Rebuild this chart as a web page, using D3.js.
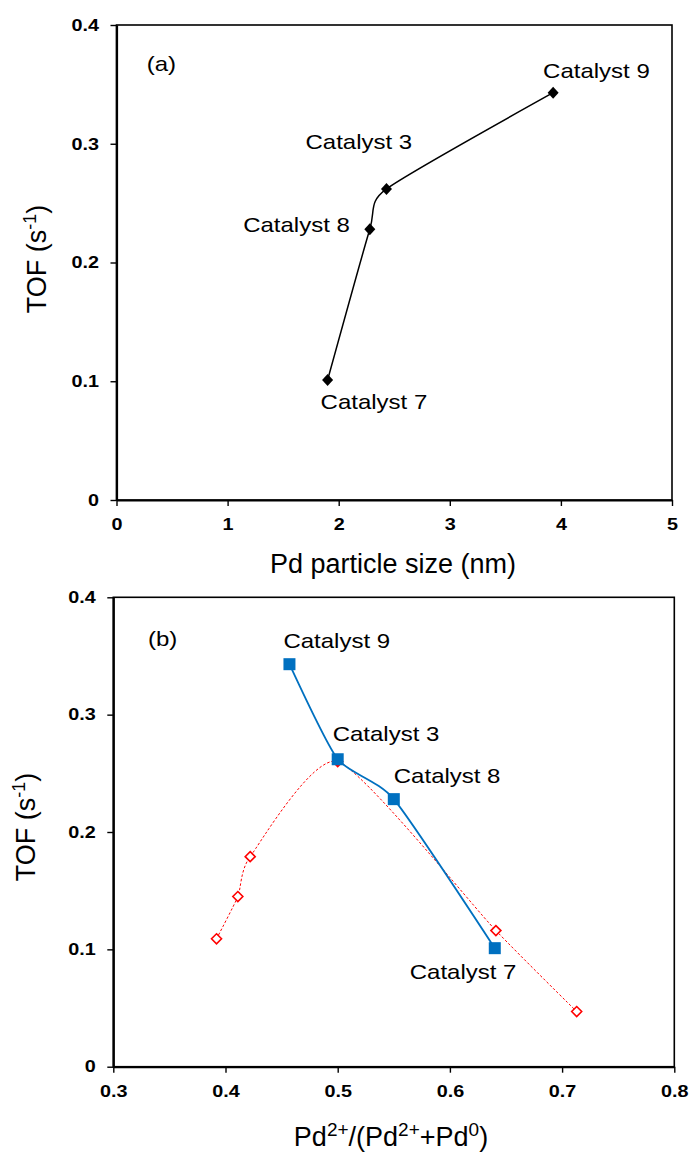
<!DOCTYPE html>
<html>
<head>
    <meta charset="utf-8"/>
    <style>
        body {
            margin: 0;
            background: #fff;
        }

        svg text {
            font-family: Arial, "Liberation Sans", sans-serif;
            fill: #000;
        }
    </style>
</head>
<body>
<div id="chart"></div>
<script type="text/javascript" src="https://cdn.jsdelivr.net/npm/d3@7"></script>
<script type="text/javascript">

    // catalysts, in order of particle size
    var catalysts = ["Catalyst 7", "Catalyst 8", "Catalyst 3", "Catalyst 9"];
    var tof = [0.101, 0.228, 0.262, 0.343];
    var particleSize = [1.90, 2.28, 2.43, 3.93];
    var pdRatio = [0.640, 0.550, 0.500, 0.457];

    // second (red, open diamond) series in panel b
    var refRatio = [0.392, 0.411, 0.422, 0.500, 0.641, 0.713];
    var refTof = [0.109, 0.145, 0.179, 0.260, 0.116, 0.047];

    var tofTicks = [0, 0.1, 0.2, 0.3, 0.4];
    var sizeTicks = [0, 1, 2, 3, 4, 5];
    var ratioTicks = [0.3, 0.4, 0.5, 0.6, 0.7, 0.8];

    var w = 694;
    var h = 1156;
    var stretch = 1.2;   // labels in the figure are drawn wide

    var svg = d3.select("#chart")
        .append("svg")
        .attr("width", w)
        .attr("height", h);

    var xA = d3.scaleLinear().domain([0, 5]).range([116.5, 672]);
    var yA = d3.scaleLinear().domain([0, 0.4]).range([500, 25]);
    var xB = d3.scaleLinear().domain([0.3, 0.8]).range([113.3, 674.3]);
    var yB = d3.scaleLinear().domain([0, 0.4]).range([1066.7, 597.3]);

    function frame(x, y, xTicks, xFmt) {
        // top and right border
        svg.append("rect")
            .attr("x", x.range()[0])
            .attr("y", y.range()[1])
            .attr("width", x.range()[1] - x.range()[0])
            .attr("height", y.range()[0] - y.range()[1])
            .attr("fill", "none")
            .attr("stroke", "#000")
            .attr("stroke-width", 1.6);

        var gx = svg.append("g")
            .attr("transform", "translate(0," + y.range()[0] + ")")
            .call(d3.axisBottom(x).tickValues(xTicks).tickFormat(xFmt).tickSize(6).tickSizeOuter(0));
        gx.selectAll("text")
            .attr("y", 18.5)
            .attr("transform", "scale(" + stretch + ",1)");

        var gy = svg.append("g")
            .attr("transform", "translate(" + x.range()[0] + ",0)")
            .call(d3.axisLeft(y).tickValues(tofTicks).tickFormat(d3.format("")).tickSize(6).tickSizeOuter(0));
        gy.selectAll("text")
            .attr("x", -17.5 / stretch)
            .attr("transform", "scale(" + stretch + ",1)");

        svg.selectAll(".domain").attr("stroke-width", 2.2);
        svg.selectAll(".tick line").attr("stroke-width", 1.4);
        svg.selectAll(".tick text")
            .attr("font-size", 16.5)
            .attr("font-weight", "bold")
            .attr("font-family", "Arial, 'Liberation Sans', sans-serif");
    }

    function wideText(x, y, str, anchor) {
        return svg.append("text")
            .attr("transform", "translate(" + x + "," + y + ") scale(" + stretch + ",1)")
            .attr("text-anchor", anchor || "start")
            .attr("font-size", 20)
            .text(str);
    }

    function tofTitle(x, y) {
        var t = svg.append("text")
            .attr("transform", "translate(" + x + "," + y + ") rotate(-90)")
            .attr("text-anchor", "middle")
            .attr("font-size", 27);
        t.append("tspan").text("TOF (s");
        t.append("tspan").attr("baseline-shift", "super").attr("font-size", 18).text("-1");
        t.append("tspan").text(")");
    }

    // spreadsheet-style smoothed line
    var smooth = d3.curveCardinal.tension(0.4);

    // ---------------- panel (a) ----------------
    frame(xA, yA, sizeTicks, d3.format("d"));

    var dsA = catalysts.map(function (c, i) {
        return {name: c, x: particleSize[i], y: tof[i]};
    });

    var lineA = d3.line()
        .x(function (d) { return xA(d.x); })
        .y(function (d) { return yA(d.y); })
        .curve(smooth);

    svg.append("path")
        .datum(dsA)
        .attr("d", lineA)
        .attr("fill", "none")
        .attr("stroke", "#000")
        .attr("stroke-width", 1.5);

    svg.selectAll(".dia-a")
        .data(dsA)
        .enter()
        .append("path")
        .attr("class", "dia-a")
        .attr("d", "M0,-6L5.5,0L0,6L-5.5,0Z")
        .attr("transform", function (d) {
            return "translate(" + xA(d.x) + "," + yA(d.y) + ")";
        })
        .attr("fill", "#000");

    var offA = {
        "Catalyst 9": [-10, -15, "start"],
        "Catalyst 3": [-81, -40, "start"],
        "Catalyst 8": [-20, 3, "end"],
        "Catalyst 7": [-7, 29, "start"]
    };
    dsA.forEach(function (d) {
        var o = offA[d.name];
        wideText(xA(d.x) + o[0], yA(d.y) + o[1], d.name, o[2]);
    });

    wideText(146.7, 71, "(a)");
    tofTitle(46, 259);
    svg.append("text")
        .attr("x", 393)
        .attr("y", 573)
        .attr("text-anchor", "middle")
        .attr("font-size", 27)
        .text("Pd particle size (nm)");

    // ---------------- panel (b) ----------------
    frame(xB, yB, ratioTicks, d3.format(".1f"));

    var dsRef = refRatio.map(function (r, i) {
        return {x: r, y: refTof[i]};
    });
    var dsB = catalysts.map(function (c, i) {
        return {name: c, x: pdRatio[i], y: tof[i]};
    }).sort(function (a, b) { return a.x - b.x; });

    var lineB = d3.line()
        .x(function (d) { return xB(d.x); })
        .y(function (d) { return yB(d.y); })
        .curve(smooth);

    svg.append("path")
        .datum(dsRef)
        .attr("d", lineB)
        .attr("fill", "none")
        .attr("stroke", "#ff0000")
        .attr("stroke-width", 1)
        .attr("stroke-dasharray", "2.5,2");

    svg.selectAll(".dia-b")
        .data(dsRef)
        .enter()
        .append("path")
        .attr("class", "dia-b")
        .attr("d", "M0,-5L5,0L0,5L-5,0Z")
        .attr("transform", function (d) {
            return "translate(" + xB(d.x) + "," + yB(d.y) + ")";
        })
        .attr("fill", "#fff")
        .attr("stroke", "#ff0000")
        .attr("stroke-width", 1.6);

    svg.append("path")
        .datum(dsB)
        .attr("d", lineB)
        .attr("fill", "none")
        .attr("stroke", "#0070c0")
        .attr("stroke-width", 1.8);

    svg.selectAll(".sq-b")
        .data(dsB)
        .enter()
        .append("rect")
        .attr("class", "sq-b")
        .attr("x", function (d) { return xB(d.x) - 6; })
        .attr("y", function (d) { return yB(d.y) - 6; })
        .attr("width", 12)
        .attr("height", 12)
        .attr("fill", "#0070c0");

    var offB = {
        "Catalyst 9": [-6, -16, "start"],
        "Catalyst 3": [-5, -18, "start"],
        "Catalyst 8": [0, -16, "start"],
        "Catalyst 7": [-85, 31, "start"]
    };
    dsB.forEach(function (d) {
        var o = offB[d.name];
        wideText(xB(d.x) + o[0], yB(d.y) + o[1], d.name, o[2]);
    });

    wideText(148, 646, "(b)");
    tofTitle(35, 827);

    var tb = svg.append("text")
        .attr("x", 391)
        .attr("y", 1146)
        .attr("text-anchor", "middle")
        .attr("font-size", 27);
    tb.append("tspan").text("Pd");
    tb.append("tspan").attr("baseline-shift", "super").attr("font-size", 19).text("2+");
    tb.append("tspan").text("/(Pd");
    tb.append("tspan").attr("baseline-shift", "super").attr("font-size", 19).text("2+");
    tb.append("tspan").text("+Pd");
    tb.append("tspan").attr("baseline-shift", "super").attr("font-size", 19).text("0");
    tb.append("tspan").text(")");

</script>
</body>
</html>
